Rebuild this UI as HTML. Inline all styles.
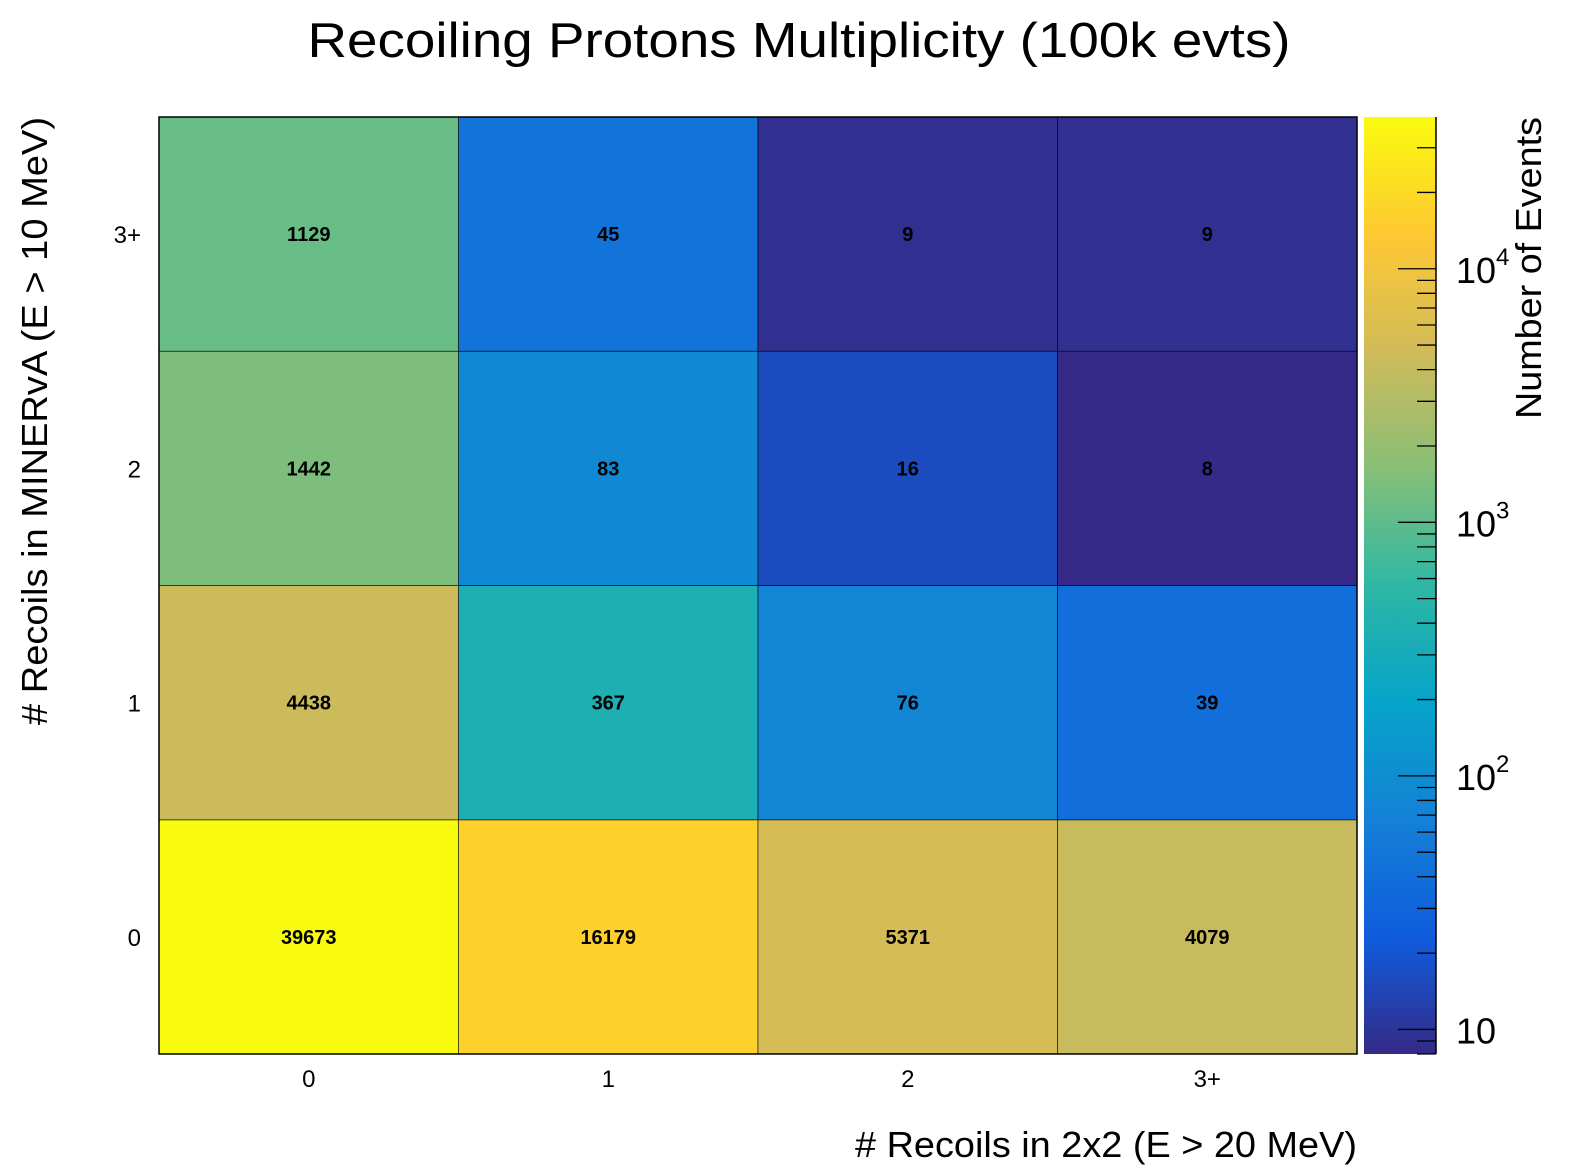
<!DOCTYPE html>
<html><head><meta charset="utf-8">
<style>
html,body{margin:0;padding:0;background:#fff;}
svg{display:block;font-family:"Liberation Sans",Arial,sans-serif;}
</style></head>
<body>
<svg id="chart" width="1596" height="1172" viewBox="0 0 1596 1172" xmlns="http://www.w3.org/2000/svg">
<text x="799" y="57" font-size="49" text-anchor="middle" textLength="983" lengthAdjust="spacingAndGlyphs">Recoiling Protons Multiplicity (100k evts)</text>
<text x="1357" y="1157" font-size="36" text-anchor="end" textLength="502" lengthAdjust="spacingAndGlyphs"># Recoils in 2x2 (E &gt; 20 MeV)</text>
<text transform="translate(47,117) rotate(-90)" font-size="36" text-anchor="end" textLength="608" lengthAdjust="spacingAndGlyphs"># Recoils in MINERvA (E &gt; 10 MeV)</text>
<text transform="translate(1541,117) rotate(-90)" font-size="36" text-anchor="end" textLength="302" lengthAdjust="spacingAndGlyphs">Number of Events</text>
<g id="cells"></g>
<g id="colorbar"></g>
</svg>
<script>
const xCats = ["0","1","2","3+"];
const yCats = ["0","1","2","3+"];
// values[row y][col x]
const row0 = [39673,16179,5371,4079];
const row1 = [4438,367,76,39];
const row2 = [1442,83,16,8];
const row3 = [1129,45,9,9];
const values = [row0,row1,row2,row3];
const zMin = 8, zMax = 39673;
const cbMajor = [10,100,1000,10000];

const NS = "http://www.w3.org/2000/svg";
const svg = document.getElementById("chart");
const gCells = document.getElementById("cells");
const gCb = document.getElementById("colorbar");
const PX0=159, PX1=1357, PY0=117, PY1=1054;
const CB0=1364, CB1=1436;
function xScale(i){return PX0+(PX1-PX0)*i/xCats.length;}
function yScale(j){return PY1-(PY1-PY0)*j/yCats.length;}
function zFrac(v){return (Math.log10(v)-Math.log10(zMin))/(Math.log10(zMax)-Math.log10(zMin));}
function zY(v){return PY1-(PY1-PY0)*zFrac(v);}
const st=[0,.125,.25,.375,.5,.625,.75,.875,1];
const R=[0.2082,0.0592,0.0780,0.0232,0.1802,0.5301,0.8186,0.9956,0.9764];
const G=[0.1664,0.3599,0.5041,0.6419,0.7178,0.7492,0.7328,0.7862,0.9832];
const B=[0.5293,0.8684,0.8385,0.7914,0.6425,0.4662,0.3499,0.1968,0.0539];
function bird(f){
  f=Math.max(0,Math.min(1,f));
  let k=Math.min(7,Math.floor(f/0.125));
  let t=(f-st[k])/0.125;
  const c=a=>Math.round(255*(a[k]+(a[k+1]-a[k])*t));
  return `rgb(${c(R)},${c(G)},${c(B)})`;
}
function mk(tag,attrs,parent){const e=document.createElementNS(NS,tag);for(const k in attrs)e.setAttribute(k,attrs[k]);(parent||svg).appendChild(e);return e;}

for(let j=0;j<yCats.length;j++){
  for(let i=0;i<xCats.length;i++){
    const v=values[j][i];
    const r=mk("rect",{x:xScale(i),y:yScale(j+1),width:xScale(i+1)-xScale(i),height:yScale(j)-yScale(j+1),fill:bird(zFrac(v)),stroke:"rgba(0,0,0,0.55)","stroke-width":1},gCells);
    
    
    const t=mk("text",{x:(xScale(i)+xScale(i+1))/2,y:(yScale(j)+yScale(j+1))/2+7,"font-size":20,"font-weight":"bold","text-anchor":"middle"},gCells);
    t.textContent=v;
    
    
  }
}
const fr=mk("rect",{x:PX0,y:PY0,width:PX1-PX0,height:PY1-PY0,fill:"none",stroke:"#000","stroke-width":1.5});


xCats.forEach((c,i)=>{
  const t=mk("text",{x:(xScale(i)+xScale(i+1))/2,y:1087,"font-size":24,"text-anchor":"middle"});
  t.textContent=c;
  
  
});
yCats.forEach((c,j)=>{
  const t=mk("text",{x:141,y:(yScale(j)+yScale(j+1))/2+9,"font-size":24,"text-anchor":"end"});
  t.textContent=c;
  
  
});
const defs=mk("defs",{});
const lg=mk("linearGradient",{id:"birdgrad",x1:0,y1:1,x2:0,y2:0},defs);
for(let s=0;s<=40;s++){mk("stop",{offset:s/40,"stop-color":bird(s/40)},lg);}
const cb=mk("rect",{x:CB0,y:PY0,width:CB1-CB0,height:PY1-PY0,fill:"url(#birdgrad)"},gCb);


const ax=mk("line",{x1:CB1,y1:PY0,x2:CB1,y2:PY1,stroke:"#000","stroke-width":1.5},gCb);


let tv=[];
for(let e=0;e<=4;e++){for(let k=1;k<=9;k++){const v=k*Math.pow(10,e);if(v>=zMin&&v<=zMax)tv.push(v);}}
tv.forEach(v=>{
  const major=cbMajor.includes(v);
  const y=zY(v);
  const l=mk("line",{x1:CB1-(major?38:19),y1:y,x2:CB1,y2:y,stroke:"#000","stroke-width":1.3},gCb);
  
  
});
cbMajor.forEach(v=>{
  const y=zY(v);
  const e=Math.round(Math.log10(v));
  const t=mk("text",{x:1456,y:y+14,"font-size":36},gCb);
  
  
  t.textContent="10";
  if(e>1){
    const s=document.createElementNS(NS,"tspan");
    s.setAttribute("dy","-18");s.setAttribute("font-size","24");
    s.textContent=String(e);
    t.appendChild(s);
  }
});
</script>
</body></html>
